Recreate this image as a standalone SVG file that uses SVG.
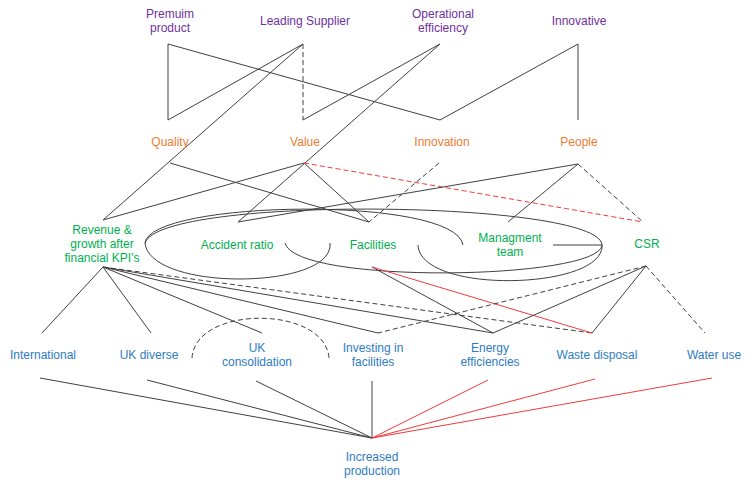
<svg xmlns="http://www.w3.org/2000/svg" width="750" height="480" viewBox="0 0 750 480">
<style>
text{font-family:"Liberation Sans",Arial,sans-serif;font-size:12px;text-anchor:middle}
.p{fill:#7030A0}.o{fill:#ED7D31}.g{fill:#00B050}.b{fill:#2E7BC4}
.l{stroke:#404040;stroke-width:1;fill:none}
.d{stroke:#404040;stroke-width:1;fill:none;stroke-dasharray:5,3}
.r{stroke:#F23A3A;stroke-width:1;fill:none}
.rd{stroke:#F23A3A;stroke-width:1;fill:none;stroke-dasharray:5,3}
</style>
<rect width="750" height="480" fill="#fff"/>
<g id="connectors">
<!-- top layer -->
<path class="l" d="M168,44V120L303,44"/>
<path class="l" d="M168,44L440,120L578,44V120"/>
<path class="d" d="M303,44V120"/>
<path class="l" d="M303,120L440,44"/>
<path class="l" d="M303,44L103,220"/>
<path class="l" d="M440,44L238,222"/>
<!-- middle layer -->
<path class="l" d="M170,163L369,222"/>
<path class="l" d="M304,163L103,220"/>
<path class="l" d="M304,163L369,222"/>
<path class="rd" d="M304,163L643,222"/>
<path class="d" d="M439,163L369,222"/>
<path class="l" d="M578,164L238,222"/>
<path class="l" d="M578,164L508,222"/>
<path class="d" d="M578,164L643,222"/>
<!-- ellipse curves -->
<path class="l" d="M145,243C160,195 600,200 602,245"/>
<path class="l" d="M145,243C150,200 455,195 463,245"/>
<path class="l" d="M145,243C150,292 335,290 330,243"/>
<path class="l" d="M285,243C295,285 600,280 602,245"/>
<path class="l" d="M418,245C420,295 605,290 602,245"/>
<path class="l" d="M553,245H602"/>
<!-- lower layer -->
<path class="l" d="M103,267L42,333M103,267L151,333M103,267L262,333M103,267L378,333M103,267L493,333"/>
<path class="d" d="M103,267L592,333"/>
<path class="l" d="M372,267L493,333"/>
<path class="r" d="M372,267L592,333"/>
<path class="d" d="M646,266L378,333"/>
<path class="l" d="M646,266L493,333M646,266L592,333"/>
<path class="d" d="M646,266L705,333"/>
<path class="d" d="M192,358C195,305 325,305 329,358"/>
<!-- bottom -->
<path class="l" d="M40,378L372,438M147,380L372,438M256,381L372,438M372,381V438"/>
<path class="r" d="M488,380L372,438M595,379L372,438M712,378L372,438"/>
</g>
<g id="premium"><text class="p" x="170" y="18">Premuim</text><text class="p" x="170" y="32">product</text></g>
<g id="leading"><text class="p" x="305" y="25">Leading Supplier</text></g>
<g id="operational"><text class="p" x="443" y="18">Operational</text><text class="p" x="443" y="32">efficiency</text></g>
<g id="innovative"><text class="p" x="579" y="25">Innovative</text></g>
<g id="quality"><text class="o" x="170" y="146">Quality</text></g>
<g id="value"><text class="o" x="305" y="146">Value</text></g>
<g id="innovation"><text class="o" x="442" y="146">Innovation</text></g>
<g id="people"><text class="o" x="579" y="146">People</text></g>
<g id="revenue"><text class="g" x="102" y="234">Revenue &amp;</text><text class="g" x="102" y="248">growth after</text><text class="g" x="102" y="262">financial KPI's</text></g>
<g id="accident"><text class="g" x="237" y="249">Accident ratio</text></g>
<g id="facilities"><text class="g" x="373" y="249">Facilities</text></g>
<g id="management"><text class="g" x="510" y="242">Managment</text><text class="g" x="510" y="256">team</text></g>
<g id="csr"><text class="g" x="647" y="248">CSR</text></g>
<g id="international"><text class="b" x="43" y="359">International</text></g>
<g id="ukdiverse"><text class="b" x="149" y="359">UK diverse</text></g>
<g id="ukconsolidation"><text class="b" x="257" y="352">UK</text><text class="b" x="257" y="366">consolidation</text></g>
<g id="investing"><text class="b" x="373" y="352">Investing in</text><text class="b" x="373" y="366">facilities</text></g>
<g id="energy"><text class="b" x="490" y="352">Energy</text><text class="b" x="490" y="366">efficiencies</text></g>
<g id="waste"><text class="b" x="597" y="359">Waste disposal</text></g>
<g id="water"><text class="b" x="714" y="359">Water use</text></g>
<g id="increased"><text class="b" x="372" y="461">Increased</text><text class="b" x="372" y="475">production</text></g>
</svg>
